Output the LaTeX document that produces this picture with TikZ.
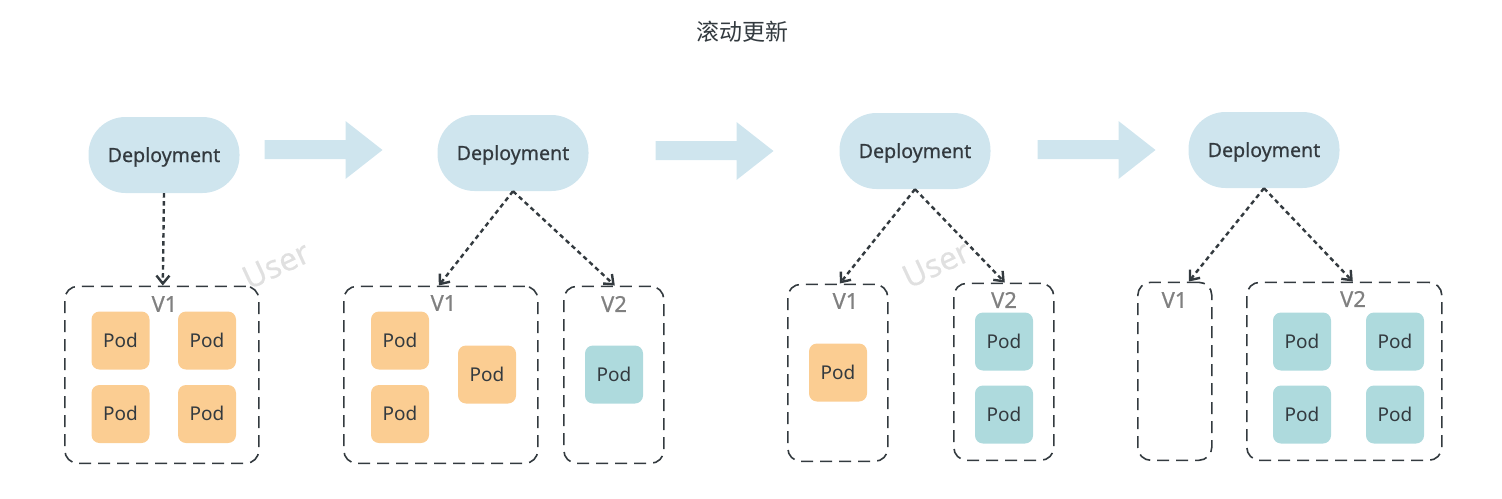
\documentclass[tikz,border=0pt]{standalone}
\usepackage{fontspec}
\setmainfont{Noto Sans}
\newfontfamily\cjkfont{Noto Sans CJK SC}
\newfontfamily\heavyfont[FakeBold=0.6]{Noto Sans}
\newfontfamily\liftfont[FakeBold=0.25]{Noto Sans}
\usetikzlibrary{arrows.meta}
\definecolor{deplo}{HTML}{CFE5EE}
\definecolor{oldpod}{HTML}{FBCD92}
\definecolor{newpod}{HTML}{AEDADD}
\definecolor{inkc}{HTML}{333A3F}
\tikzset{
  deplobox/.style={fill=deplo,rounded corners=37pt,minimum width=151pt,minimum height=76pt,inner sep=0pt,text=inkc,text height=14pt,text depth=0pt,font=\heavyfont\fontsize{19.6}{22}\selectfont},
  podbox/.style={rounded corners=8pt,minimum width=58pt,minimum height=58pt,inner sep=0pt,text=inkc,text height=13.6pt,text depth=0pt,font=\fontsize{19}{22}\selectfont},
  oldp/.style={podbox,fill=oldpod},
  newp/.style={podbox,fill=newpod},
  groupbox/.style={draw=inkc,line width=1.6pt,dash pattern=on 12pt off 7pt,rounded corners=13pt,inner sep=0pt},
  verlabel/.style={text=black!50,font=\heavyfont\fontsize{22}{26}\selectfont,inner sep=0pt},
  link/.style={draw=inkc,line width=2.4pt,dash pattern=on 4.5pt off 3.5pt,-{Straight Barb[length=8pt,width=13pt,line width=2.4pt]}},
  bigarrow/.style={fill=deplo},
  mark text/.style={text=black!12,font=\liftfont\fontsize{32}{36}\selectfont,rotate=25,inner sep=0pt}
}
\newcommand{\blockarrow}[2]{%
  \path[bigarrow] (#1,#2-10) -- (#1+81,#2-10) -- (#1+81,#2-29) -- (#1+118,#2) -- (#1+81,#2+29) -- (#1+81,#2+9) -- (#1,#2+9) -- cycle;}
\newcommand{\groupat}[5]{%
  \node[groupbox,minimum width=#4-#2,minimum height=#5-#3,anchor=north west] (#1) at (#2-1,#3-0.5) {};}
\begin{document}
\begin{tikzpicture}[x=1pt,y=-1pt]
\useasboundingbox (0,0) rectangle (1502,498);
\node[font=\cjkfont\fontsize{23}{26}\selectfont,text=inkc,inner sep=0pt] (title) at (742.5,32) {滚动更新};

\node[mark text] (wm1) at (276,265) {User};
\node[mark text] (wm2) at (936,264) {User};

\blockarrow{264.5}{150}
\blockarrow{655.5}{151}
\blockarrow{1037.5}{150}

\node[deplobox] (d1) at (164,155) {Deployment};
\node[deplobox] (d2) at (513,153) {Deployment};
\node[deplobox] (d3) at (915,151) {Deployment};
\node[deplobox] (d4) at (1264,150) {Deployment};

\groupat{g1}{65}{286}{259}{463}
\groupat{g2}{344}{286}{538}{463}
\groupat{g3}{564}{286}{664}{463}
\groupat{g4}{788}{284}{888}{461}
\groupat{g5}{954}{283}{1054}{460}
\groupat{g6}{1138}{282}{1212}{460}
\groupat{g7}{1247}{282}{1442}{460}

\node[verlabel] (v1) at (164.5,304) {V1};
\node[verlabel] (v2) at (443.5,303) {V1};
\node[verlabel] (v3) at (614,304) {V2};
\node[verlabel] (v4) at (845.5,301) {V1};
\node[verlabel] (v5) at (1004,300) {V2};
\node[verlabel] (v6) at (1174.5,300) {V1};
\node[verlabel] (v7) at (1353,299) {V2};

\node[oldp] (p1) at (120.5,340.5) {Pod};
\node[oldp] (p2) at (207,340.5) {Pod};
\node[oldp] (p3) at (120.5,414) {Pod};
\node[oldp] (p4) at (207,414) {Pod};
\node[oldp] (p5) at (400,340.5) {Pod};
\node[oldp] (p6) at (400,414) {Pod};
\node[oldp] (p7) at (487,374.5) {Pod};
\node[newp] (p8) at (614,374.5) {Pod};
\node[oldp] (p9) at (838,372.5) {Pod};
\node[newp] (p10) at (1004,341.5) {Pod};
\node[newp] (p11) at (1004,414.5) {Pod};
\node[newp] (p12) at (1302,341.5) {Pod};
\node[newp] (p13) at (1395,341.5) {Pod};
\node[newp] (p14) at (1302,414.5) {Pod};
\node[newp] (p15) at (1395,414.5) {Pod};

\draw[link] (d1.south) -- ([xshift=1pt]g1.north);
\draw[link] (d2.south) -- ([xshift=-2pt]g2.north);
\draw[link] (d2.south) -- ([xshift=1pt]g3.north);
\draw[link] (d3.south) -- ([xshift=2pt]g4.north);
\draw[link] (d3.south) -- ([xshift=1pt]g5.north);
\draw[link] (d4.south) -- ([xshift=14pt]g6.north);
\draw[link] (d4.south) -- ([xshift=8.5pt]g7.north);
\end{tikzpicture}
\end{document}
